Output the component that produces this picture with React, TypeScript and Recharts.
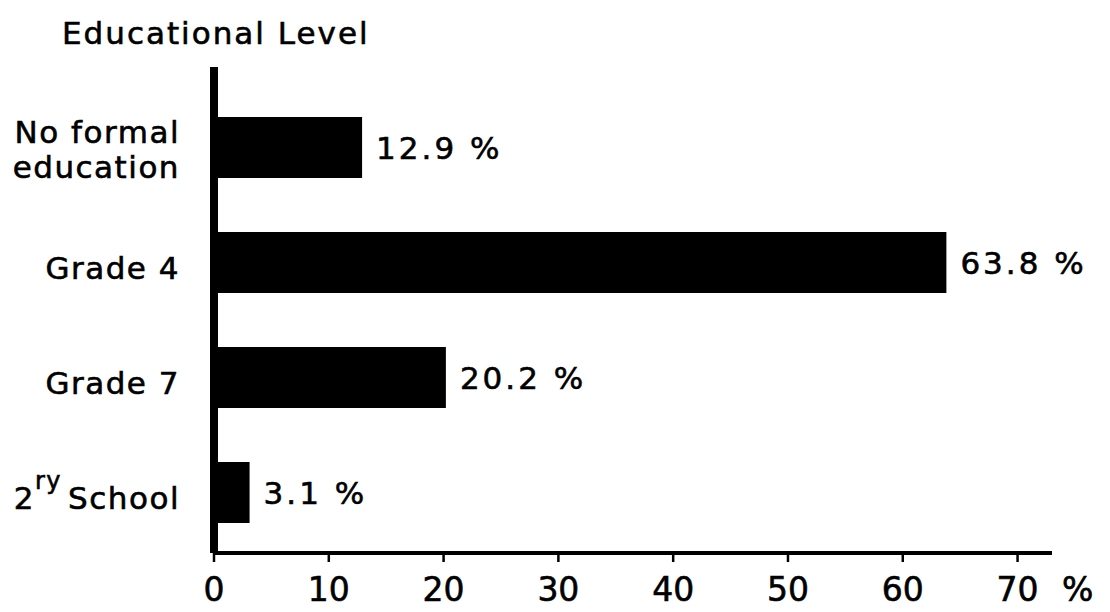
import React from 'react';
import { BarChart, Bar, XAxis, YAxis, LabelList } from 'recharts';

const categories = ['No formal education', 'Grade 4', 'Grade 7', '2ry School'];
const percentages = [12.9, 63.8, 20.2, 3.1];
const xTicks = [0, 10, 20, 30, 40, 50, 60, 70];
const title = 'Educational Level';

const data = categories.map((name, i) => ({ name, value: percentages[i] }));

const FONT = '"DejaVu Sans", sans-serif';
const THICK = { stroke: '#000', strokeWidth: 0.6 };

const CategoryTick = (props: any) => {
  const { x, y, payload } = props;
  const v: string = payload.value;
  const common = { fontFamily: FONT, fontSize: 31, fill: '#000', textAnchor: 'end' as const, letterSpacing: 1.5, ...THICK };
  if (v === 'No formal education') {
    return (
      <g>
        <text x={x} y={y - 5} {...common}>No formal</text>
        <text x={x} y={y + 30} {...common}>education</text>
      </g>
    );
  }
  if (v === '2ry School') {
    return (
      <text x={x} y={y + 16} {...common}>
        <tspan>2</tspan>
        <tspan fontSize={24} dy={-20}>ry</tspan>
        <tspan dy={20} dx={6}>School</tspan>
      </text>
    );
  }
  return (
    <text x={x} y={y + 16} {...common}>{v}</text>
  );
};

const ValueTick = (props: any) => {
  const { x, y, payload } = props;
  const common = { fontFamily: FONT, fontSize: 33, fill: '#000', ...THICK };
  return (
    <g>
      <text x={x} y={y + 31} textAnchor="middle" {...common}>{payload.value}</text>
      {payload.value === 70 ? (
        <text x={x + 60} y={y + 31} textAnchor="middle" {...common}>%</text>
      ) : null}
    </g>
  );
};

export default function App() {
  return (
    <div style={{ position: 'absolute', left: 0, top: 0, width: 1110, height: 612, background: '#fff' }}>
      <svg width={1110} height={60} style={{ position: 'absolute', left: 0, top: 0 }}>
        <text x={62} y={44} fontFamily={FONT} fontSize={31} letterSpacing={2} fill="#000" {...THICK}>
          {title}
        </text>
      </svg>
      <div style={{ position: 'absolute', left: 0, top: 0 }}>
        <BarChart
          width={1110}
          height={612}
          data={data}
          layout="vertical"
          margin={{ top: 67, right: 58, bottom: 0, left: 0 }}
        >
          <XAxis
            type="number"
            domain={[0, 73]}
            ticks={xTicks}
            allowDataOverflow
            height={59}
            axisLine={{ stroke: '#000', strokeWidth: 4 }}
            tickLine={{ stroke: '#000', strokeWidth: 2.5 }}
            tickSize={9}
            tickMargin={8}
            tick={<ValueTick />}
            interval={0}
          />
          <YAxis
            type="category"
            dataKey="name"
            width={214}
            padding={{ top: 23, bottom: 3 }}
            axisLine={{ stroke: '#000', strokeWidth: 8 }}
            tickLine={false}
            tickSize={0}
            tickMargin={34}
            tick={<CategoryTick />}
            interval={0}
          />
          <Bar dataKey="value" fill="#000" barSize={61} isAnimationActive={false}>
            <LabelList
              dataKey="value"
              position="right"
              offset={14}
              formatter={(v: any) => `${v} %`}
              style={{ fontFamily: FONT, fontSize: 31, fill: '#000', letterSpacing: 3, stroke: '#000', strokeWidth: 0.6 }}
            />
          </Bar>
        </BarChart>
      </div>
    </div>
  );
}
